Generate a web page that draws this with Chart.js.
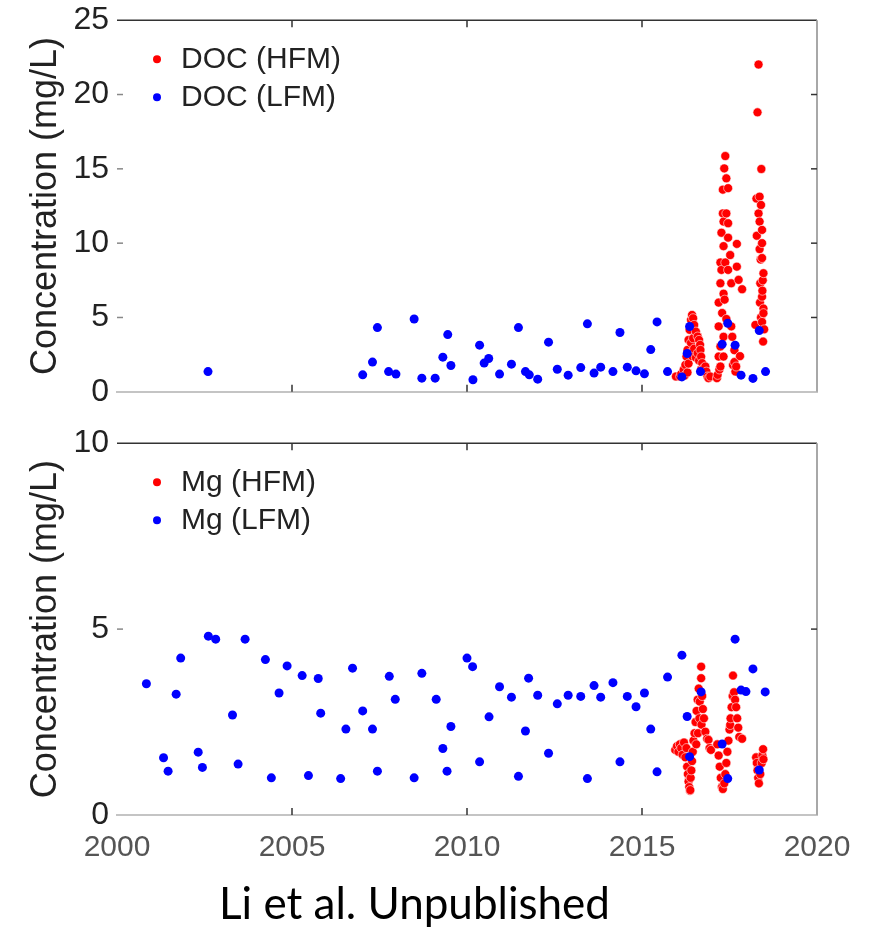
<!DOCTYPE html>
<html>
<head>
<meta charset="utf-8">
<script src="https://cdn.jsdelivr.net/npm/chart.js@4.4.1/dist/chart.umd.min.js"></script>
<style>
  html, body { margin: 0; padding: 0; background: #fff; }
  #page { position: relative; width: 869px; height: 927px; overflow: hidden; }
  #docWrap { position: absolute; left: 0; top: -7px; width: 869px; height: 426px; }
  #mgWrap { position: absolute; left: 0; top: 416px; width: 869px; height: 459px; }
  #credit {
    position: absolute; left: -20px; width: 869px; top: 876px;
    text-align: center; font-family: Lato, "Open Sans", sans-serif;
    font-size: 44px; color: #000;
  }
</style>
</head>
<body>
<div id="page">
  <div id="docWrap"><canvas id="docChart"></canvas></div>
  <div id="mgWrap"><canvas id="mgChart"></canvas></div>
  <div id="credit">Li et al. Unpublished</div>
</div>
<script>
// DOC, low-frequency monitoring (grab samples)
const docLfmYear = [2002.6, 2007.02, 2007.30, 2007.44, 2007.76, 2007.97, 2008.49, 2008.71, 2009.09, 2009.31,
  2009.45, 2009.54, 2010.17, 2010.36, 2010.49, 2010.62, 2010.93, 2011.27, 2011.47, 2011.67,
  2011.78, 2012.02, 2012.33, 2012.58, 2012.89, 2013.25, 2013.44, 2013.63, 2013.82, 2014.17,
  2014.37, 2014.58, 2014.83, 2015.07, 2015.25, 2015.43, 2015.73, 2016.14, 2016.29, 2016.36,
  2016.67, 2017.29, 2017.45, 2017.66, 2017.83, 2018.17, 2018.35, 2018.53];
const docLfmValue = [1.36, 1.14, 2.0, 4.32, 1.36, 1.19, 4.9, 0.92, 0.92, 2.33,
  3.85, 1.77, 0.81, 3.14, 1.93, 2.24, 1.19, 1.86, 4.32, 1.36,
  1.14, 0.85, 3.34, 1.52, 1.12, 1.63, 4.57, 1.26, 1.66, 1.36,
  3.99, 1.66, 1.41, 1.21, 2.84, 4.7, 1.36, 1.0, 2.58, 4.39,
  1.36, 3.2, 4.61, 3.14, 1.12, 0.9, 4.12, 1.36];

// DOC, high-frequency monitoring (sensor bursts 2016-2018)
const docHfmYear = [2015.97, 2016.09, 2016.12, 2016.19, 2016.22, 2016.24, 2016.27, 2016.30, 2016.30, 2016.33,
  2016.33, 2016.36, 2016.36, 2016.40, 2016.40, 2016.43, 2016.43, 2016.46, 2016.46, 2016.49,
  2016.49, 2016.54, 2016.54, 2016.59, 2016.59, 2016.63, 2016.63, 2016.66, 2016.67, 2016.69,
  2016.69, 2016.72, 2016.76, 2016.81, 2016.84, 2016.87, 2016.90, 2016.95,
  2017.14, 2017.16, 2017.19, 2017.19, 2017.19, 2017.21, 2017.24, 2017.24, 2017.24, 2017.24,
  2017.27, 2017.27, 2017.29, 2017.31, 2017.31, 2017.33, 2017.33, 2017.33, 2017.33, 2017.33,
  2017.35, 2017.36, 2017.38, 2017.38, 2017.41, 2017.41, 2017.41, 2017.46, 2017.46, 2017.46,
  2017.46, 2017.52, 2017.55, 2017.55, 2017.58, 2017.60, 2017.64, 2017.64, 2017.67, 2017.69,
  2017.71, 2017.71, 2017.76, 2017.80, 2017.86,
  2018.24, 2018.27, 2018.28, 2018.30, 2018.33, 2018.33, 2018.36, 2018.36, 2018.36, 2018.37,
  2018.38, 2018.39, 2018.40, 2018.40, 2018.41, 2018.43, 2018.43, 2018.43, 2018.43, 2018.43,
  2018.44, 2018.45, 2018.46, 2018.47, 2018.47, 2018.47, 2018.49];
const docHfmValue = [1.03, 1.03, 1.2, 1.48, 1.1, 1.81, 2.37, 2.82, 1.3, 3.49,
  1.9, 4.17, 2.6, 4.84, 3.3, 5.17, 2.4, 4.95, 3.6, 4.5,
  2.9, 4.05, 2.3, 3.72, 2.6, 3.49, 2.1, 3.16, 2.82, 2.37,
  1.5, 1.93, 1.59, 1.70, 1.36, 1.03, 0.92, 1.03,
  0.92, 1.14, 2.37, 4.4, 6.0, 1.5, 1.7, 3.05, 7.3, 8.7,
  8.2, 10.7, 5.3, 12.0, 13.6, 2.37, 3.7, 6.6, 9.8, 11.45,
  15.03, 6.2, 15.86, 8.7, 14.36, 12.0, 4.9, 13.70, 11.34, 10.37,
  8.2, 9.2, 7.3, 4.4, 3.7, 1.8, 2.8, 2.0, 1.36, 1.7,
  9.95, 8.42, 7.53, 2.4, 6.9,
  4.5, 13.0, 10.5, 18.8, 22.02, 12.0, 13.13, 11.45, 9.6, 6.0,
  7.3, 8.9, 12.57, 5.0, 14.99, 10.89, 10.0, 9.0, 6.4, 4.7,
  6.8, 7.5, 3.38, 7.98, 5.6, 5.29, 4.2];

// Mg, low-frequency monitoring
const mgLfmYear = [2000.84, 2001.33, 2001.46, 2001.69, 2001.82, 2002.32, 2002.44, 2002.61, 2002.82, 2003.30,
  2003.46, 2003.66, 2004.24, 2004.41, 2004.63, 2004.86, 2005.29, 2005.47, 2005.75, 2005.82,
  2006.39, 2006.54, 2006.73, 2007.02, 2007.30, 2007.44, 2007.78, 2007.95, 2008.49, 2008.71,
  2009.12, 2009.31, 2009.43, 2009.54, 2010.00, 2010.16, 2010.36, 2010.63, 2010.93, 2011.27,
  2011.47, 2011.67, 2011.76, 2012.02, 2012.33, 2012.58, 2012.89, 2013.25, 2013.44, 2013.63,
  2013.82, 2014.17, 2014.37, 2014.58, 2014.83, 2015.07, 2015.25, 2015.43, 2015.73, 2016.14,
  2016.29, 2016.36, 2016.69, 2017.29, 2017.45, 2017.66, 2017.83, 2017.97, 2018.17, 2018.35,
  2018.52];
const mgLfmValue = [3.53, 1.54, 1.18, 3.25, 4.22, 1.69, 1.28, 4.81, 4.73, 2.69,
  1.37, 4.73, 4.18, 1.0, 3.28, 4.01, 3.75, 1.06, 3.67, 2.74,
  0.98, 2.31, 3.95, 2.80, 2.31, 1.18, 3.73, 3.11, 1.0, 3.81,
  3.11, 1.79, 1.18, 2.38, 4.22, 3.99, 1.43, 2.64, 3.45, 3.17,
  1.04, 2.26, 3.68, 3.22, 1.66, 2.99, 3.22, 3.19, 0.98, 3.48,
  3.17, 3.56, 1.43, 3.19, 2.91, 3.28, 2.31, 1.16, 3.71, 4.30,
  2.65, 1.57, 3.31, 1.91, 0.98, 4.73, 3.36, 3.32, 3.93, 1.21,
  3.31];

// Mg, high-frequency monitoring
const mgHfmYear = [2015.95, 2016.00, 2016.04, 2016.08, 2016.12, 2016.16, 2016.20, 2016.24, 2016.27, 2016.29,
  2016.31, 2016.33, 2016.35, 2016.37, 2016.38, 2016.39, 2016.41, 2016.43, 2016.45, 2016.47,
  2016.50, 2016.53, 2016.55, 2016.56, 2016.59, 2016.60, 2016.62, 2016.64, 2016.65, 2016.69,
  2016.69, 2016.70, 2016.72, 2016.74, 2016.77, 2016.81, 2016.86, 2016.90, 2016.93, 2016.97,
  2017.15, 2017.19, 2017.22, 2017.25, 2017.28, 2017.29, 2017.31, 2017.35, 2017.38, 2017.41,
  2017.44, 2017.47, 2017.50, 2017.52, 2017.53, 2017.56, 2017.59, 2017.60, 2017.63, 2017.66,
  2017.69, 2017.72, 2017.75, 2017.78, 2017.86,
  2018.26, 2018.28, 2018.30, 2018.32, 2018.34, 2018.38, 2018.42, 2018.44, 2018.46, 2018.47];
const mgHfmValue = [1.75, 1.85, 1.7, 1.9, 1.8, 1.62, 1.95, 1.55, 1.8, 1.3,
  1.1, 0.9, 0.75, 0.65, 0.67, 1.0, 1.2, 1.45, 1.7, 2.0,
  2.2, 2.5, 1.9, 2.8, 3.1, 2.2, 3.4, 2.6, 3.05, 3.99,
  3.68, 2.43, 3.2, 2.85, 2.6, 2.24, 2.05, 2.02, 1.8, 1.75,
  1.9, 1.6, 1.3, 1.0, 0.75, 0.76, 0.7, 0.85, 1.1, 1.4,
  1.7, 2.0, 2.3, 2.42, 2.6, 2.9, 3.2, 3.75, 3.3, 3.1,
  2.9, 2.6, 2.35, 2.1, 2.05,
  1.55, 1.4, 1.2, 1.0, 0.85, 1.1, 1.4, 1.6, 1.77, 1.5];

const xTicks = [2000, 2005, 2010, 2015, 2020];
const hfmColor = '#ff0000';
const lfmColor = '#0000ff';

function toPoints(xs, ys) {
    return xs.map((x, i) => ({ x: x, y: ys[i] }));
}

// Boxed frame with inward tick marks (top/right edges and tick stubs)
const framePlugin = {
    id: 'frame',
    beforeDatasetsDraw(chart) {
        const { ctx, chartArea: a, scales } = chart;
        ctx.save();
        ctx.lineCap = 'butt';
        // top edge
        ctx.strokeStyle = '#333';
        ctx.lineWidth = 1.5;
        ctx.beginPath();
        ctx.moveTo(a.left, a.top);
        ctx.lineTo(a.right, a.top);
        ctx.stroke();
        // right edge
        ctx.strokeStyle = '#a8a8a8';
        ctx.lineWidth = 2;
        ctx.beginPath();
        ctx.moveTo(a.right, a.top);
        ctx.lineTo(a.right, a.bottom);
        ctx.stroke();
        // x ticks, top and bottom
        ctx.strokeStyle = '#333';
        ctx.lineWidth = 1.5;
        xTicks.slice(1, -1).forEach(v => {
            const px = scales.x.getPixelForValue(v);
            ctx.beginPath();
            ctx.moveTo(px, a.top);
            ctx.lineTo(px, a.top + 7);
            ctx.moveTo(px, a.bottom);
            ctx.lineTo(px, a.bottom - 7);
            ctx.stroke();
        });
        // y ticks, left and right
        scales.y.ticks.forEach(t => {
            if (t.value <= scales.y.min || t.value >= scales.y.max) return;
            const py = scales.y.getPixelForValue(t.value);
            ctx.strokeStyle = '#888';
            ctx.beginPath();
            ctx.moveTo(a.left, py);
            ctx.lineTo(a.left + 6, py);
            ctx.stroke();
            ctx.strokeStyle = '#333';
            ctx.beginPath();
            ctx.moveTo(a.right, py);
            ctx.lineTo(a.right - 6, py);
            ctx.stroke();
        });
        ctx.restore();
    }
};

// Legend drawn inside the plot, upper left
const insideLegend = {
    id: 'insideLegend',
    afterDraw(chart, args, opts) {
        const { ctx, chartArea: a } = chart;
        ctx.save();
        ctx.font = '30px "Liberation Sans", Arial, sans-serif';
        ctx.textBaseline = 'middle';
        opts.items.forEach((item, i) => {
            const y = a.top + 39 + i * 38;
            ctx.fillStyle = item.color;
            ctx.beginPath();
            ctx.arc(a.left + 40, y, 4, 0, Math.PI * 2);
            ctx.fill();
            ctx.fillStyle = '#222';
            ctx.fillText(item.label, a.left + 64, y + 1);
        });
        ctx.restore();
    }
};

function createPanel(canvasId, opts) {
    const ctx = document.getElementById(canvasId).getContext('2d');
    return new Chart(ctx, {
        type: 'scatter',
        data: {
            datasets: [
                {
                    label: opts.hfmLabel,
                    data: opts.hfm,
                    backgroundColor: hfmColor,
                    borderColor: 'rgba(255,255,255,0.7)',
                    borderWidth: 0.8,
                    pointRadius: 4.5,
                    order: 2
                },
                {
                    label: opts.lfmLabel,
                    data: opts.lfm,
                    backgroundColor: lfmColor,
                    borderColor: lfmColor,
                    borderWidth: 0,
                    pointRadius: 4.5,
                    order: 1
                }
            ]
        },
        options: {
            responsive: true,
            maintainAspectRatio: false,
            animation: false,
            layout: { padding: opts.padding },
            plugins: {
                legend: { display: false },
                tooltip: { enabled: false },
                insideLegend: {
                    items: [
                        { label: opts.hfmLabel, color: hfmColor },
                        { label: opts.lfmLabel, color: lfmColor }
                    ]
                }
            },
            scales: {
                x: {
                    type: 'linear',
                    min: 2000,
                    max: 2020,
                    afterBuildTicks: scale => {
                        scale.ticks = xTicks.map(v => ({ value: v }));
                    },
                    afterFit: scale => { scale.height = opts.xHeight; },
                    grid: { drawOnChartArea: false, drawTicks: false },
                    border: { display: true, color: '#c4c4c4', width: 2 },
                    ticks: {
                        display: opts.showX,
                        padding: 15,
                        color: '#555',
                        font: { family: '"Liberation Sans", Arial, sans-serif', size: 30 },
                        callback: v => String(v)
                    }
                },
                y: {
                    min: 0,
                    max: opts.yMax,
                    afterFit: scale => { scale.width = 117; },
                    grid: { drawOnChartArea: false, drawTicks: false },
                    border: { display: false },
                    ticks: {
                        stepSize: 5,
                        padding: 8,
                        color: '#222',
                        font: { family: '"Liberation Sans", Arial, sans-serif', size: 32 }
                    },
                    title: {
                        display: true,
                        text: 'Concentration (mg/L)',
                        color: '#222',
                        padding: { top: 24, bottom: 0 },
                        font: { family: '"Liberation Sans", Arial, sans-serif', size: 36 }
                    }
                }
            }
        },
        plugins: [framePlugin, insideLegend]
    });
}

createPanel('docChart', {
    hfm: toPoints(docHfmYear, docHfmValue),
    lfm: toPoints(docLfmYear, docLfmValue),
    hfmLabel: 'DOC (HFM)',
    lfmLabel: 'DOC (LFM)',
    yMax: 25,
    showX: false,
    xHeight: 0,
    padding: { top: 20, right: 52, bottom: 20, left: 0 }
});

createPanel('mgChart', {
    hfm: toPoints(mgHfmYear, mgHfmValue),
    lfm: toPoints(mgLfmYear, mgLfmValue),
    hfmLabel: 'Mg (HFM)',
    lfmLabel: 'Mg (LFM)',
    yMax: 10,
    showX: true,
    xHeight: 60,
    padding: { top: 23, right: 52, bottom: 0, left: 0 }
});
</script>
</body>
</html>
